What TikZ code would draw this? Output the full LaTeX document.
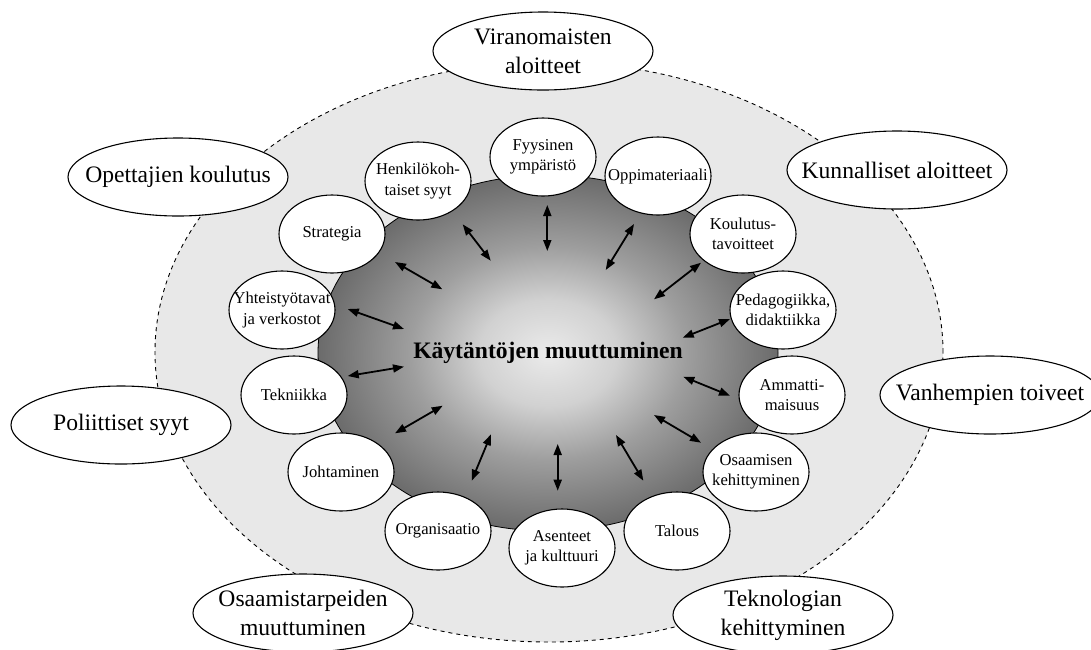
\documentclass[tikz,border=0pt]{standalone}
\usepackage{fontspec}
\setmainfont{Liberation Serif}
\usetikzlibrary{shapes.geometric,arrows.meta}

\definecolor{ringfill}{gray}{0.91}
\definecolor{hubA}{gray}{0.92}
\definecolor{hubB}{gray}{0.82}
\definecolor{hubC}{gray}{0.62}
\definecolor{hubD}{gray}{0.42}
% the middle 50bp square of a shading is stretched over the path, so the rim sits at 25bp
\pgfdeclareradialshading{hubshade}{\pgfpointorigin}{color(0bp)=(hubA); color(7.5bp)=(hubB); color(15bp)=(hubC); color(25bp)=(hubD); color(50bp)=(hubD)}

\begin{document}
\begin{tikzpicture}[x=1pt,y=-1pt,
  factor/.style={ellipse, draw, fill=white, line width=1.1pt,
    minimum width=106pt, minimum height=78pt, inner xsep=-30pt, inner ysep=0pt,
    align=center, font=\fontsize{16.6pt}{20.5pt}\selectfont},
  driver/.style={ellipse, draw, fill=white, line width=1.1pt,
    minimum width=220pt, minimum height=78pt, inner xsep=-25pt, inner ysep=0pt,
    align=center, font=\fontsize{23.6pt}{29pt}\selectfont},
  link/.style={{Triangle[length=11pt,width=8pt]}-{Triangle[length=11pt,width=8pt]}, line width=1.8pt}]
\useasboundingbox (0,0) rectangle (1091,649);

% outer ring of influences
\draw[dash pattern=on 4pt off 4pt, line width=0.9pt, fill=ringfill]
  (549,352) ellipse [x radius=394pt, y radius=290pt];

% shaded core
\shadedraw[shading=hubshade, draw=black, line width=0.8pt]
  (548,353) ellipse [x radius=230pt, y radius=178pt];
\node[font=\bfseries\fontsize{23.6pt}{28pt}\selectfont] (hub) at (548,353) {Käytäntöjen muuttuminen};

% two-way links between the core and the factors
\coordinate (l1a) at (462.7,224.3); \coordinate (l1b) at (490.7,260.7);
\coordinate (l2a) at (547.3,205);   \coordinate (l2b) at (547.3,251);
\coordinate (l3a) at (634,224);     \coordinate (l3b) at (605.7,270);
\coordinate (l4a) at (701,262.7);   \coordinate (l4b) at (654,299.3);
\coordinate (l5a) at (395,262);     \coordinate (l5b) at (442.3,289.3);
\coordinate (l6a) at (347.7,309);   \coordinate (l6b) at (404,329);
\coordinate (l7a) at (730,319);     \coordinate (l7b) at (682.7,337.7);
\coordinate (l8a) at (347.7,376);   \coordinate (l8b) at (404,366.7);
\coordinate (l9a) at (683.3,376.7); \coordinate (l9b) at (730,395.7);
\coordinate (l10a) at (395,433.3);  \coordinate (l10b) at (442.7,405.7);
\coordinate (l11a) at (654,415);    \coordinate (l11b) at (701,442.7);
\coordinate (l12a) at (471.7,480.7);\coordinate (l12b) at (491,434.3);
\coordinate (l13a) at (557.7,444);  \coordinate (l13b) at (557.7,490.7);
\coordinate (l14a) at (616,435);    \coordinate (l14b) at (643.3,480.7);
\foreach \i in {1,...,14} \draw[link] (l\i a) -- (l\i b);

% factors around the core
\node[factor] (fyys) at (543,157) {Fyysinen\\ympäristö};
\node[factor] (henk) at (418,181) {Henkilökoh-\\taiset syyt};
\node[factor] (oppi) at (658,176) {Oppimateriaali};
\node[factor] (stra) at (332,234) {Strategia};
\node[factor] (koul) at (743,234) {Koulutus-\\tavoitteet};
\node[factor] (yhte) at (282,310) {Yhteistyötavat\\ja verkostot};
\node[factor] (peda) at (783,310) {Pedagogiikka,\\didaktiikka};
\node[factor] (tekn) at (294,395) {Tekniikka};
\node[factor] (amma) at (792,395) {Ammatti-\\maisuus};
\node[factor] (joht) at (341,472) {Johtaminen};
\node[factor] (osaa) at (756,472) {Osaamisen\\kehittyminen};
\node[factor] (orga) at (438,531) {Organisaatio};
\node[factor] (talo) at (677,531) {Talous};
\node[factor] (asen) at (562,548) {Asenteet\\ja kulttuuri};

% external drivers on the ring
\node[driver] (viran) at (543,51)  {Viranomaisten\\aloitteet};
\node[driver] (opet)  at (178,177) {Opettajien koulutus};
\node[driver] (kunn)  at (897,170) {Kunnalliset aloitteet};
\node[driver] (poli)  at (121,425) {Poliittiset syyt};
\node[driver] (vanh)  at (990,395) {Vanhempien toiveet};
\node[driver] (osat)  at (303,613) {Osaamistarpeiden\\muuttuminen};
\node[driver] (tekno) at (783,615) {Teknologian\\kehittyminen};
\end{tikzpicture}
\end{document}
